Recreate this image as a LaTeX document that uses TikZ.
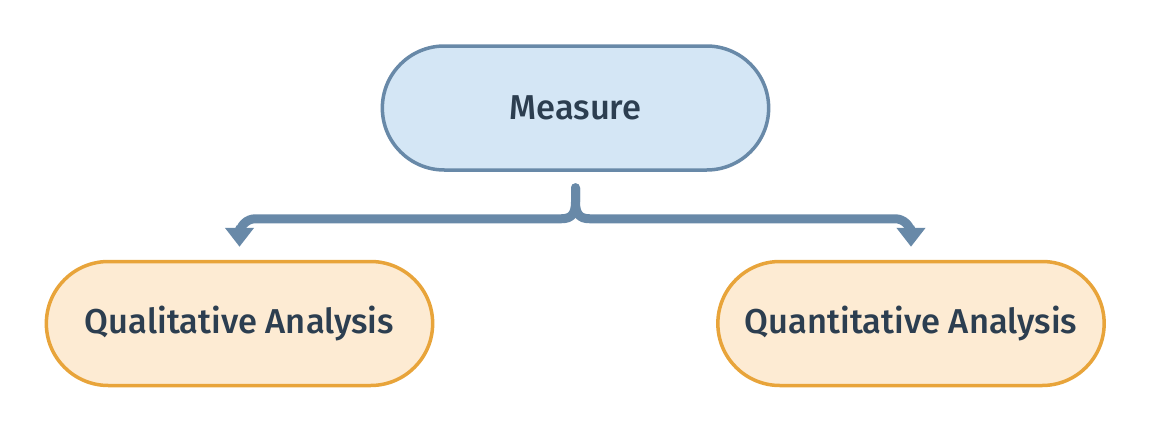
\documentclass[tikz,border=0pt]{standalone}
\usepackage{fontspec}
\setmainfont{Fira Sans Medium}
\usepackage{tikz}
\usetikzlibrary{positioning}
\usetikzlibrary{shapes.misc}
\usetikzlibrary{arrows.meta}

\definecolor{measureline}{HTML}{6889A8}
\definecolor{measurefill}{HTML}{D4E6F5}
\definecolor{analysisline}{HTML}{E8A43A}
\definecolor{analysisfill}{HTML}{FDEBD3}
\definecolor{labeltext}{HTML}{2C3E50}

\begin{document}
\begin{tikzpicture}[x=1pt,y=-1pt,
    pill/.style={rounded rectangle, line width=3.5pt, minimum width=393pt,
      minimum height=124pt, text=labeltext, font=\fontsize{34.5}{40}\selectfont},
    measurebox/.style={pill, draw=measureline, fill=measurefill},
    analysisbox/.style={pill, draw=analysisline, fill=analysisfill},
    link/.style={draw=measureline, line width=9pt, line cap=round,
      -{Triangle[width=28pt,length=19pt]}}]
  \useasboundingbox (0,0) rectangle (1152,434);

  \node[measurebox] (m) at (575.5,108) { Measure };
  \node[analysisbox] (ql) at (239.5,323.5) { Qualitative Analysis };
  \node[analysisbox] (qn) at (911,323.5) { Quantitative Analysis };

  \draw[link] ([yshift=-16pt]m.south) -- ++(0,14) .. controls +(0,12) and +(10,0) .. ++(-14,17)
    [rounded corners=16pt] -| ([yshift=13pt]ql.north);
  \draw[link] ([yshift=-16pt]m.south) -- ++(0,14) .. controls +(0,12) and +(-10,0) .. ++(14,17)
    [rounded corners=16pt] -| ([yshift=13pt]qn.north);
\end{tikzpicture}
\end{document}
